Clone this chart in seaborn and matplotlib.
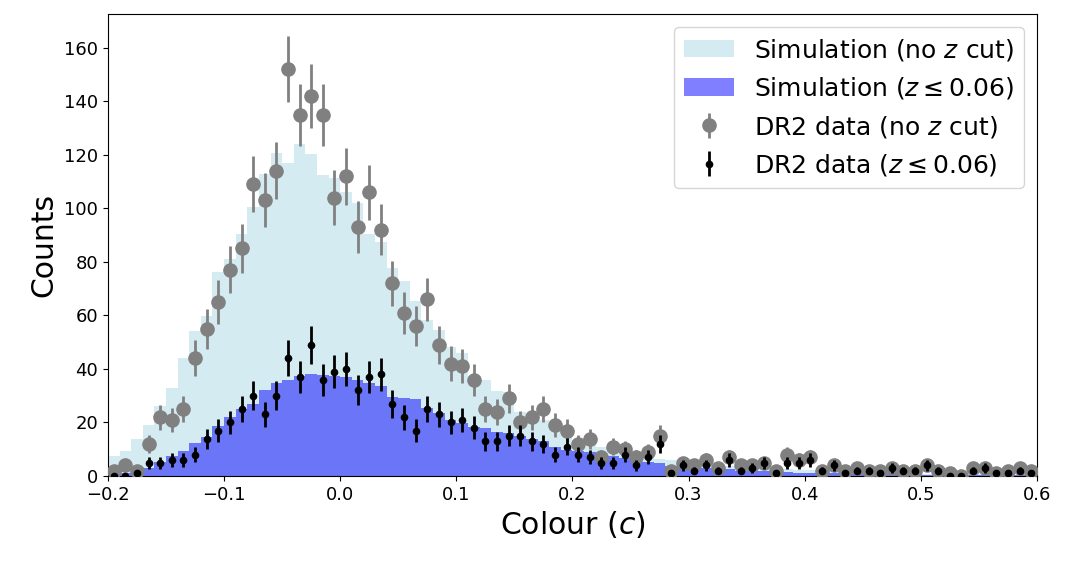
import numpy as np
import pandas as pd
import matplotlib
matplotlib.use("Agg")
import matplotlib.pyplot as plt
import seaborn as sns
from matplotlib.patches import Patch

# colour bins, width 0.01 from -0.2 to 0.6
bin_lo = -0.2
bin_hi = 0.6
n_bins = 80

# simulated counts (scaled), no redshift cut
sim_nocut = [7.5, 9.4, 14, 19, 26.3, 33, 44, 54, 59.6, 76.3,
             81, 90.5, 100.4, 113, 120.6, 117, 124, 120.3, 112.5, 111.5,
             106, 102, 90.3, 87.4, 77.8, 72.8, 65.3, 58.4, 54.7, 48.2,
             46, 37, 36, 31.6, 31.5, 24, 23, 21, 18.5, 16,
             13.5, 11.6, 11, 10.4, 9.7, 9, 7, 6.4, 6, 4.5,
             4.2, 4, 3.8, 3.6, 3.5, 3.4, 3.3, 3.2, 2.6, 2.4,
             2.2, 2.0, 1.8, 1.6, 1.5, 1.4, 1.3, 1.2, 1.1, 1.0,
             0.9, 0.9, 0.8, 0.8, 0.7, 0.7, 0.6, 0.6, 0.5, 0.5]

# simulated counts (scaled), z <= 0.06
sim_cut = [0.5, 1, 1.8, 2.9, 5.4, 7.5, 9.4, 12.5, 14.7, 18.5,
           22, 25, 27, 32.2, 34.7, 35.7, 37.5, 38.2, 37.8, 37.5,
           37, 36, 34.7, 33.7, 29.7, 29, 28.7, 25.4, 23.5, 21,
           19.7, 18.3, 17.9, 16.6, 16, 15, 14, 12.9, 11, 9.6,
           9.3, 8.8, 8, 7.5, 6.8, 6, 5.2, 4.7, 3.8, 3.4,
           3.2, 3.0, 2.8, 2.6, 2.0, 1.9, 1.8, 1.8, 1.6, 1.3,
           1.2, 1.0, 1.0, 0.9, 0.8, 0.8, 0.7, 0.7, 0.6, 0.6,
           0.5, 0.5, 0.5, 0.4, 0.4, 0.4, 0.3, 0.3, 0.3, 0.3]

# DR2 observed counts
dr2_nocut = [2, 4, 2, 12, 22, 21, 25, 44, 55, 65,
             77, 85, 109, 103, 114, 152, 135, 142, 135, 104,
             112, 93, 106, 92, 72, 61, 56, 66, 49, 42,
             41, 36, 25, 24, 29, 20, 22, 25, 19, 17,
             12, 14, 7, 11, 10, 7, 9, 15, 2, 5,
             4, 6, 3, 7, 4, 4, 5, 2, 8, 6,
             7, 2, 4, 2, 3, 2, 2, 3, 2, 2,
             4, 2, 1, 0, 3, 3, 1, 2, 3, 2]

dr2_cut = [0, 0, 1, 5, 5, 6, 6, 8, 14, 17,
           20, 25, 30, 23, 30, 44, 37, 49, 36, 39,
           40, 32, 37, 38, 27, 22, 17, 25, 23, 20,
           21, 18, 13, 13, 15, 15, 13, 12, 8, 11,
           8, 7, 5, 5, 8, 4, 7, 12, 1, 4,
           2, 4, 2, 6, 2, 3, 5, 1, 5, 5,
           6, 2, 4, 1, 2, 2, 1, 3, 2, 2,
           4, 2, 0, 0, 2, 3, 1, 1, 2, 1]

edges = np.linspace(bin_lo, bin_hi, n_bins + 1)
centres = 0.5 * (edges[1:] + edges[:-1])
df = pd.DataFrame({"colour": centres, "nocut": sim_nocut, "cut": sim_cut})

fig = plt.figure(figsize=(10.68, 5.65), dpi=100)
ax = fig.add_axes([0.1011, 0.1575, 0.8698, 0.8177])

# simulation histograms
sns.histplot(data=df, x="colour", weights="nocut", bins=list(edges),
             element="step", color="lightblue", alpha=0.5, linewidth=0, ax=ax)
sns.histplot(data=df, x="colour", weights="cut", bins=list(edges),
             element="step", color="blue", alpha=0.5, linewidth=0, ax=ax)

# data points with poisson errors
ax.errorbar(centres, dr2_nocut, yerr=np.sqrt(dr2_nocut), fmt="o",
            color="gray", ms=9.5, elinewidth=2, capsize=0, zorder=3)
ax.errorbar(centres, dr2_cut, yerr=np.sqrt(dr2_cut), fmt="o",
            color="black", ms=4.5, elinewidth=2, capsize=0, zorder=4)

ax.set_xlim(-0.2, 0.6)
ax.set_ylim(0, 172.6)
ax.set_yticks(np.arange(0, 161, 20))
ax.set_xlabel(r"Colour ($c$)", fontsize=21.5)
ax.set_ylabel("Counts", fontsize=21.5)
ax.tick_params(labelsize=13)

handles = [Patch(color="lightblue", alpha=0.5, linewidth=0),
           Patch(color="blue", alpha=0.5, linewidth=0),
           ax.containers[-2], ax.containers[-1]]
labels = [r"Simulation (no $z$ cut)", r"Simulation ($z \leq 0.06$)",
          r"DR2 data (no $z$ cut)", r"DR2 data ($z \leq 0.06$)"]
ax.legend(handles, labels, loc="upper right", fontsize=18)

fig.savefig("out.png", dpi=100)
